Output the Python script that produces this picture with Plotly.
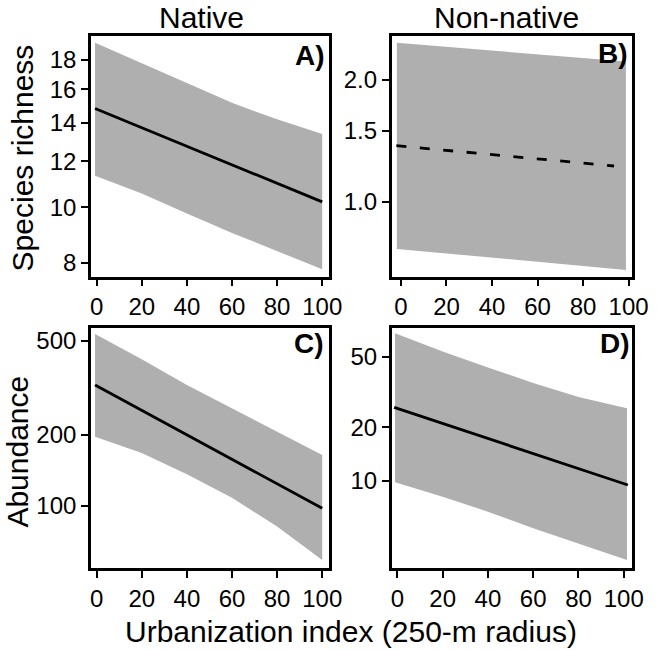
import plotly.graph_objects as go

# ---------------- data ----------------
x_ticks = [0, 20, 40, 60, 80, 100]

# A) Native species richness
xA_band = [-0.7, 20, 40, 60, 80, 100]
A_upper = [19.28, 17.76, 16.39, 15.17, 14.20, 13.39]
A_lower = [11.33, 10.56, 9.75, 9.02, 8.39, 7.80]
xA_fit = [-0.7, 100]
A_fit = [14.83, 10.21]

# B) Non-native species richness
xB_band = [-1.8, 98.8]
B_upper = [2.47, 2.22]
B_lower = [0.766, 0.680]
xB_fit = [-2.0, 93.6]
B_fit = [1.377, 1.227]

# C) Native abundance
xC_band = [-0.7, 20, 40, 60, 80, 100]
C_upper = [534, 417, 324.5, 258.5, 205.8, 163.9]
C_lower = [196, 167, 136, 108, 81.5, 58.9]
xC_fit = [-0.7, 100]
C_fit = [324.5, 97.5]

# D) Non-native abundance
xD_band = [-1.0, 20, 40, 60, 80, 101.4]
D_upper = [67.7, 53.5, 43.5, 35.6, 29.6, 25.6]
D_lower = [9.80, 8.13, 6.69, 5.39, 4.40, 3.57]
xD_fit = [-1.4, 101.8]
D_fit = [25.9, 9.46]

yticks_A = [8, 10, 12, 14, 16, 18]
yticks_B = [1.0, 1.5, 2.0]
ytext_B = ["1.0", "1.5", "2.0"]
yticks_C = [100, 200, 500]
yticks_D = [10, 20, 50]

col_titles = ["Native", "Non-native"]
row_titles = ["Species richness", "Abundance"]
x_title = "Urbanization index (250-m radius)"
panel_labels = ["A)", "B)", "C)", "D)"]

# ---------------- figure ----------------
W, H = 669, 650
FONT = "Liberation Sans, Arial, Helvetica, sans-serif"
GREY = "#afafaf"

fig = go.Figure()

panels = [
    ("x", "y", xA_band, A_upper, A_lower, xA_fit, A_fit, "solid"),
    ("x2", "y2", xB_band, B_upper, B_lower, xB_fit, B_fit, "10px,13.5px"),
    ("x3", "y3", xC_band, C_upper, C_lower, xC_fit, C_fit, "solid"),
    ("x4", "y4", xD_band, D_upper, D_lower, xD_fit, D_fit, "solid"),
]
for xa, ya, xb, up, lo, xf, yf, dash in panels:
    fig.add_trace(go.Scatter(
        x=list(xb) + list(xb)[::-1], y=list(up) + list(lo)[::-1],
        xaxis=xa, yaxis=ya, mode="lines", fill="toself",
        fillcolor=GREY, line=dict(width=0, color=GREY),
        hoverinfo="skip", showlegend=False))
    fig.add_trace(go.Scatter(
        x=xf, y=yf, xaxis=xa, yaxis=ya, mode="lines",
        line=dict(color="black", width=2.8, dash=dash),
        showlegend=False))

def px_x(a, b):
    return [a / W, b / W]

def px_y(top, bottom):
    return [1 - bottom / H, 1 - top / H]

col1 = px_x(92.5, 337.5)
col2 = px_x(401.5, 648.5)
row1 = px_y(35.5, 276.5)
row2 = px_y(327.5, 568)

TICKF = dict(family=FONT, size=24, color="black")
common_x = dict(showline=True, linecolor="black", linewidth=2.6, mirror=True,
                ticks="outside", ticklen=7, tickwidth=2, tickcolor="black",
                showgrid=False, zeroline=False, tickvals=x_ticks, tickfont=TICKF)
common_y = dict(showline=True, linecolor="black", linewidth=2.6, mirror=True,
                ticks="outside", ticklen=7, tickwidth=2, tickcolor="black",
                showgrid=False, zeroline=False, type="log", tickfont=TICKF)

fig.update_layout(
    width=W, height=H,
    margin=dict(l=0, r=0, t=0, b=0),
    paper_bgcolor="white", plot_bgcolor="white",
    font=dict(family=FONT, color="black"),
    xaxis=dict(common_x, domain=col1, range=[-2.5, 103.2], anchor="y"),
    yaxis=dict(common_y, domain=row1, range=[0.8796, 1.2978], anchor="x",
               tickvals=yticks_A, ticktext=[str(v) for v in yticks_A]),
    xaxis2=dict(common_x, domain=col2, range=[-4.06, 101.5], anchor="y2"),
    yaxis2=dict(common_y, domain=row1, range=[-0.1838, 0.4108], anchor="x2",
                tickvals=yticks_B, ticktext=ytext_B),
    xaxis3=dict(common_x, domain=col1, range=[-2.5, 103.2], anchor="y3"),
    yaxis3=dict(common_y, domain=row2, range=[1.7358, 2.7549], anchor="x3",
                tickvals=yticks_C, ticktext=[str(v) for v in yticks_C]),
    xaxis4=dict(common_x, domain=col2, range=[-2.49, 103.65], anchor="y4"),
    yaxis4=dict(common_y, domain=row2, range=[0.5079, 1.8636], anchor="x4",
                tickvals=yticks_D, ticktext=[str(v) for v in yticks_D]),
)

TF = dict(family=FONT, size=30, color="black")
ann = []
ann.append(dict(text=col_titles[0], x=206 / W, y=1.0, xref="paper", yref="paper",
                showarrow=False, xanchor="center", yanchor="top", borderpad=0, font=TF))
ann.append(dict(text=col_titles[1], x=519 / W, y=1.0, xref="paper", yref="paper",
                showarrow=False, xanchor="center", yanchor="top", borderpad=0, font=TF))
ann.append(dict(text=row_titles[0], x=22 / W, y=1 - 158 / H, xref="paper", yref="paper",
                showarrow=False, xanchor="center", yanchor="middle", textangle=-90, font=TF))
ann.append(dict(text=row_titles[1], x=16 / W, y=1 - 452 / H, xref="paper", yref="paper",
                showarrow=False, xanchor="center", yanchor="middle", textangle=-90, font=TF))
ann.append(dict(text=x_title, x=360 / W, y=1 - 631 / H, xref="paper", yref="paper",
                showarrow=False, xanchor="center", yanchor="middle", font=TF))

LF = dict(family=FONT, size=28, color="black")
label_pos = [(335, 55), (646, 53), (334, 343), (648, 343)]
for lab, (lx, ly) in zip(panel_labels, label_pos):
    ann.append(dict(text="<b>" + lab + "</b>", x=lx / W, y=1 - ly / H, xref="paper",
                    yref="paper", showarrow=False, xanchor="right", yanchor="middle",
                    font=LF))
fig.update_layout(annotations=ann)

fig.write_html("out.html")
